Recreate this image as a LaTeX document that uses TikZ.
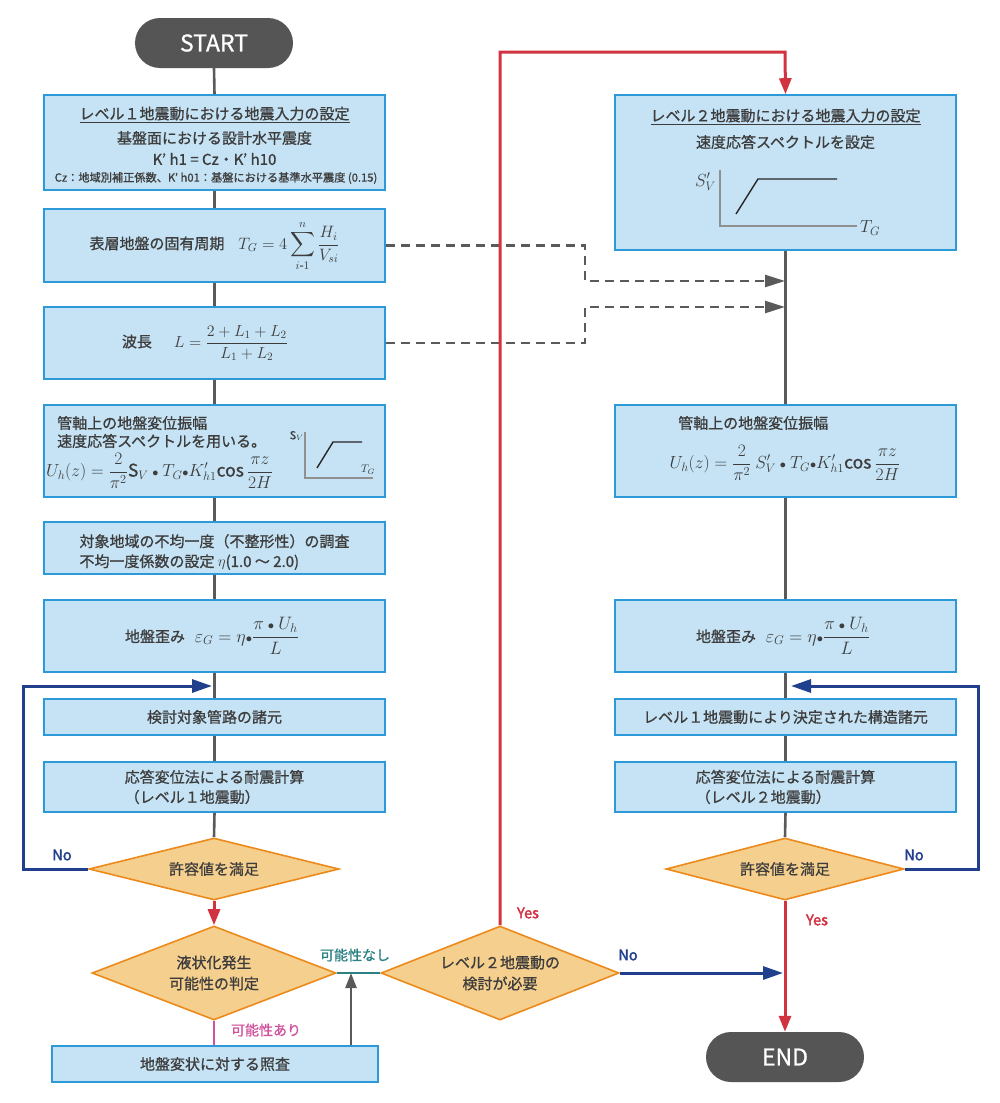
\RequirePackage{fix-cm}
\documentclass[tikz,border=0pt]{standalone}
\usepackage{amsmath}
\usepackage{fontspec}
\setmainfont{Noto Sans CJK JP}[FakeBold=0.9]
\newfontfamily\jpbold{Noto Sans CJK JP}[FakeBold=2.2]
\usetikzlibrary{shapes.geometric,arrows.meta}
\definecolor{boxfill}{HTML}{C5E3F4}
\definecolor{boxline}{HTML}{2C9AD8}
\definecolor{diafill}{HTML}{F5CF8D}
\definecolor{dialine}{HTML}{EC8A1C}
\definecolor{flowgray}{HTML}{5A5A5A}
\definecolor{axisgray}{HTML}{909090}
\definecolor{txt}{HTML}{3D3D3D}
\definecolor{redl}{HTML}{D23340}
\definecolor{bluel}{HTML}{203F8C}
\definecolor{tealc}{HTML}{2B8183}
\definecolor{pinkl}{HTML}{D2519C}
\definecolor{pillc}{HTML}{555555}
\begin{document}
\begin{tikzpicture}[x=1pt,y=-1pt,
 boxnode/.style={rectangle, draw=boxline, line width=1.6pt, fill=boxfill, minimum width=341pt, inner sep=0pt, text=txt, font=\fontsize{15}{20}\selectfont, align=center},
 txtnode/.style={inner sep=0pt, text=txt, font=\fontsize{15}{20}\selectfont, align=left},
 mathnode/.style={inner sep=0pt, text=txt, font=\fontsize{17.5}{21}\selectfont},
 smallnode/.style={inner sep=0pt, text=txt, font=\fontsize{11}{13}\selectfont},
 dianode/.style={diamond, draw=dialine, line width=1.6pt, fill=diafill, inner sep=0pt, text=txt, font=\fontsize{15}{21}\selectfont, align=center},
 pillnode/.style={rectangle, rounded corners=25pt, fill=pillc, minimum width=158pt, minimum height=50pt, text=white, font=\fontsize{23}{26}\selectfont},
 flowline/.style={draw=flowgray, line width=2.6pt},
 grayarrow/.style={draw=flowgray, line width=2.6pt, -{Triangle[length=15pt,width=11pt]}},
 redarrow/.style={draw=redl, line width=3pt, -{Triangle[length=16pt,width=12pt]}},
 bluearrow/.style={draw=bluel, line width=3pt, -{Triangle[length=20pt,width=13pt]}},
 dasharrow/.style={draw=flowgray, line width=2.4pt, dash pattern=on 9pt off 6pt, -{Triangle[length=20pt,width=12pt]}},
 axisline/.style={draw=axisgray, line width=1.2pt},
 curveline/.style={draw=black!85, line width=1.4pt},
 nolabel/.style={inner sep=0pt, text=bluel, font=\jpbold\fontsize{14.5}{16}\selectfont},
 yeslabel/.style={inner sep=0pt, text=redl, font=\jpbold\fontsize{14.5}{16}\selectfont},
 teallabel/.style={inner sep=0pt, text=tealc, font=\fontsize{14}{16}\selectfont},
 pinklabel/.style={inner sep=0pt, text=pinkl, font=\fontsize{14}{16}\selectfont}
]
\useasboundingbox (0,0) rectangle (1000,1103);
\fill[white] (0,0) rectangle (1000,1103);

% ---------- left column ----------
\node[pillnode] (start) at (214,43) {START};

\node[boxnode, minimum height=95pt] (b1) at (214.5,142.5) {};
\node[txtnode] (b1t1) at (214.5,115) {\underline{レベル１地震動における地震入力の設定}};
\node[txtnode] (b1t2) at (214.5,138) {基盤面における設計水平震度};
\node[txtnode] (b1t3) at (214.5,159) {K’ h1 = Cz・K’ h10};
\node[smallnode, font=\fontsize{11.2}{13}\selectfont] (b1t4) at (216,178) {Cz：地域別補正係数、K’ h01：基盤における基準水平震度 (0.15)};

\node[boxnode, minimum height=73pt] (b2) at (214.5,245.5) {};
\node[txtnode] (b2t) at (214.5,246) {表層地盤の固有周期\hspace{14pt}{\fontsize{16.5}{20}\selectfont$\displaystyle T_G=4\sum_{i\text{-}1}^{n}\frac{H_i}{V_{si}}$}};

\node[boxnode, minimum height=72pt] (b3) at (214.5,343) {};
\node[txtnode] (b3t) at (205,343) {波長\hspace{22pt}{\fontsize{16}{20}\selectfont$\displaystyle L=\frac{2+L_1+L_2}{L_1+L_2}$}};

\node[boxnode, minimum height=92pt] (b4) at (214.5,451) {};
\node[txtnode, anchor=west] (b4t1) at (57,423) {管軸上の地盤変位振幅};
\node[txtnode, anchor=west] (b4t2) at (57,441) {速度応答スペクトルを用いる。};
\node[mathnode, anchor=west] (b4f) at (46,471) {$\displaystyle U_h(z)=\frac{2}{\pi^2}\mathrm{S}_V\ {\scriptstyle\bullet}\ T_G{\scriptstyle\bullet}K'_{h1}\text{cos}\,\frac{\pi z}{2H}$};
\draw[axisline] (305,432) -- (305,478) -- (373,478);
\draw[curveline] (317,468) -- (333,442) -- (362,442);
\node[smallnode, anchor=east] (b4sv) at (304,436) {$\mathrm{S}_V$};
\node[smallnode] (b4tg) at (368,470) {$T_G$};

\node[boxnode, minimum height=52pt] (b5) at (214.5,548) {};
\node[txtnode] (b5t) at (214.5,552) {対象地域の不均一度（不整形性）の調査\\不均一度係数の設定 $\eta$(1.0 ～ 2.0)};

\node[boxnode, minimum height=72pt] (b6) at (214.5,636) {};
\node[txtnode] (b6t) at (212,636) {地盤歪み\hspace{10pt}{\fontsize{18}{21}\selectfont$\displaystyle \varepsilon_G=\eta{\scriptstyle\bullet}\frac{\pi\ {\scriptstyle\bullet}\ U_h}{L}$}};

\node[boxnode, minimum height=36pt] (b7) at (214.5,717) {検討対象管路の諸元};
\node[boxnode, minimum height=50pt, align=left] (b8) at (214.5,787) {応答変位法による耐震計算\\（レベル１地震動）};

\node[dianode, aspect=4, minimum width=250pt, minimum height=62pt] (d1) at (214,869) {許容値を満足};
\node[dianode, aspect=2.5, minimum width=244pt, minimum height=94pt] (d2) at (214,973) {液状化発生\\可能性の判定};
\node[dianode, aspect=2.5, minimum width=238pt, minimum height=94pt] (d3) at (500,973) {レベル２地震動の\\検討が必要};
\node[boxnode, minimum width=326pt, minimum height=36pt] (chk) at (215,1064) {地盤変状に対する照査};

% ---------- right column ----------
\node[boxnode, minimum height=155pt] (rb1) at (785.5,172.5) {};
\node[txtnode] (rb1t1) at (785.5,117) {\underline{レベル２地震動における地震入力の設定}};
\node[txtnode] (rb1t2) at (785.5,142) {速度応答スペクトルを設定};
\draw[axisline] (720,170) -- (720,226) -- (857,226);
\draw[curveline] (736,214) -- (758,179) -- (837,179);
\node[mathnode, anchor=east] (rb1sv) at (716,182) {$S'_V$};
\node[mathnode] (rb1tg) at (870,228) {$T_G$};

\node[boxnode, minimum height=92pt] (rb2) at (785.5,451) {};
\node[txtnode, anchor=west] (rb2t) at (678,423) {管軸上の地盤変位振幅};
\node[mathnode] (rb2f) at (785,463) {$\displaystyle U_h(z)=\frac{2}{\pi^2}\ S'_V\ {\scriptstyle\bullet}\ T_G{\scriptstyle\bullet}K'_{h1}\text{cos}\,\frac{\pi z}{2H}$};

\node[boxnode, minimum height=72pt] (rb3) at (785.5,636) {};
\node[txtnode] (rb3t) at (783,636) {地盤歪み\hspace{10pt}{\fontsize{18}{21}\selectfont$\displaystyle \varepsilon_G=\eta{\scriptstyle\bullet}\frac{\pi\ {\scriptstyle\bullet}\ U_h}{L}$}};

\node[boxnode, minimum height=36pt] (rb4) at (785.5,717) {レベル１地震動により決定された構造諸元};
\node[boxnode, minimum height=50pt, align=left] (rb5) at (785.5,787) {応答変位法による耐震計算\\（レベル２地震動）};

\node[dianode, aspect=4, minimum width=238pt, minimum height=62pt] (rd) at (785,869) {許容値を満足};
\node[pillnode] (end) at (785,1057) {END};

% ---------- coordinates ----------
\coordinate (dA) at (585,281);
\coordinate (dAt) at (785,281);
\coordinate (dB) at (585,307);
\coordinate (dBt) at (785,307);
\coordinate (ra) at (500,52);
\coordinate (rb) at (785,52);
\coordinate (lc) at (23,686);
\coordinate (lt) at (212,686);
\coordinate (rc) at (978,686);
\coordinate (rt) at (791,686);
\coordinate (nt) at (783,973);
\coordinate (gx) at (351,973);

% ---------- connectors ----------
\draw[flowline] (start.south) -- (b1.north);
\draw[flowline] (b1.south) -- (b2.north);
\draw[flowline] (b2.south) -- (b3.north);
\draw[flowline] (b3.south) -- (b4.north);
\draw[flowline] (b4.south) -- (b5.north);
\draw[flowline] (b5.south) -- (b6.north);
\draw[flowline] (b6.south) -- (b7.north);
\draw[flowline] (b7.south) -- (b8.north);
\draw[flowline] (b8.south) -- (d1.north);

\draw[flowline] (rb1.south) -- (rb2.north);
\draw[flowline] (rb2.south) -- (rb3.north);
\draw[flowline] (rb3.south) -- (rb4.north);
\draw[flowline] (rb4.south) -- (rb5.north);
\draw[flowline] (rb5.south) -- (rd.north);

\draw[dasharrow] (b2.east) -| (dA) -- (dAt);
\draw[dasharrow] (b3.east) -| (dB) -- (dBt);

\draw[redarrow] (d1.south) -- (d2.north);
\draw[redarrow] (d3.north) -- (ra) -- (rb) -- (rb1.north);
\draw[redarrow] (rd.south) -- (end.north);

\draw[bluearrow] (d1.west) -| (lc) -- (lt);
\draw[bluearrow] (rd.east) -| (rc) -- (rt);
\draw[bluearrow] (d3.east) -- (nt);

\draw[draw=tealc, line width=2.6pt] (d2.east) -- (d3.west);
\draw[draw=pinkl, line width=2.6pt] (d2.south) -- (d2.south |- chk.north);
\draw[grayarrow] (gx |- chk.north) -- (gx);

% ---------- labels ----------
\node[nolabel] (no1) at (62,855) {No};
\node[nolabel] (no2) at (914,855) {No};
\node[nolabel] (no3) at (628,955) {No};
\node[yeslabel] (yes1) at (528,913) {Yes};
\node[yeslabel] (yes2) at (817,920) {Yes};
\node[teallabel] (nashi) at (355,955) {可能性なし};
\node[pinklabel] (ari) at (266,1030) {可能性あり};
\end{tikzpicture}
\end{document}
